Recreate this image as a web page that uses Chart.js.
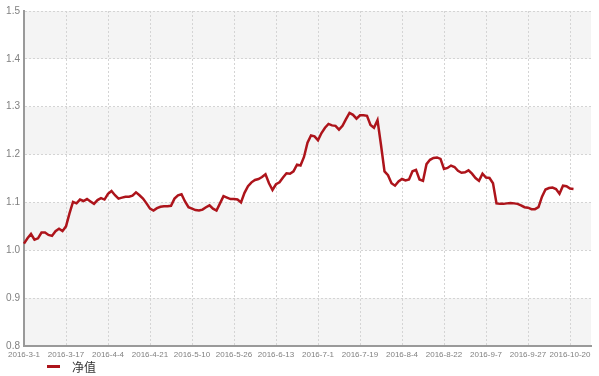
<!DOCTYPE html>
<html>
<head>
<meta charset="utf-8">
<script src="https://cdn.jsdelivr.net/npm/chart.js@4.4.0/dist/chart.umd.min.js"></script>
<style>
  html, body { margin: 0; padding: 0; background: #fff; }
  #wrap { position: relative; width: 599px; height: 376px; }
  #legend { position: absolute; left: 47px; top: 358px; font: 12px "Noto Sans CJK SC", sans-serif; color: #333; display: flex; align-items: center; }
  #legend i { display: inline-block; width: 13px; height: 3px; margin-right: 12px; }
</style>
</head>
<body>
<div id="wrap">
  <canvas id="mychart" width="599" height="376"></canvas>
  <div id="legend"></div>
</div>
<script>
// 日期 (x軸)
var dates = [
  '2016-3-1','2016-3-2','2016-3-3','2016-3-4','2016-3-7','2016-3-8','2016-3-9','2016-3-10','2016-3-11','2016-3-14','2016-3-15','2016-3-16','2016-3-17',
  '2016-3-18','2016-3-21','2016-3-22','2016-3-23','2016-3-24','2016-3-25','2016-3-28','2016-3-29','2016-3-30','2016-3-31','2016-4-1','2016-4-4',
  '2016-4-6','2016-4-7','2016-4-8','2016-4-11','2016-4-12','2016-4-13','2016-4-14','2016-4-15','2016-4-18','2016-4-19','2016-4-20','2016-4-21',
  '2016-4-22','2016-4-25','2016-4-26','2016-4-27','2016-4-28','2016-4-29','2016-5-3','2016-5-4','2016-5-5','2016-5-6','2016-5-9','2016-5-10',
  '2016-5-11','2016-5-12','2016-5-13','2016-5-16','2016-5-17','2016-5-18','2016-5-19','2016-5-20','2016-5-23','2016-5-24','2016-5-25','2016-5-26',
  '2016-5-27','2016-5-30','2016-5-31','2016-6-1','2016-6-2','2016-6-3','2016-6-6','2016-6-7','2016-6-8','2016-6-9','2016-6-10','2016-6-13',
  '2016-6-14','2016-6-15','2016-6-16','2016-6-20','2016-6-21','2016-6-22','2016-6-23','2016-6-27','2016-6-28','2016-6-29','2016-6-30','2016-7-1',
  '2016-7-4','2016-7-5','2016-7-6','2016-7-7','2016-7-8','2016-7-11','2016-7-12','2016-7-13','2016-7-14','2016-7-15','2016-7-18','2016-7-19',
  '2016-7-20','2016-7-21','2016-7-22','2016-7-25','2016-7-26','2016-7-27','2016-7-28','2016-7-29','2016-8-1','2016-8-2','2016-8-3','2016-8-4',
  '2016-8-5','2016-8-8','2016-8-9','2016-8-10','2016-8-11','2016-8-12','2016-8-15','2016-8-16','2016-8-17','2016-8-18','2016-8-19','2016-8-22',
  '2016-8-23','2016-8-24','2016-8-25','2016-8-26','2016-8-29','2016-8-30','2016-8-31','2016-9-1','2016-9-2','2016-9-5','2016-9-6','2016-9-7',
  '2016-9-8','2016-9-9','2016-9-12','2016-9-13','2016-9-14','2016-9-19','2016-9-20','2016-9-21','2016-9-22','2016-9-23','2016-9-26','2016-9-27',
  '2016-9-28','2016-9-29','2016-9-30','2016-10-10','2016-10-11','2016-10-12','2016-10-13','2016-10-14','2016-10-17','2016-10-18','2016-10-19','2016-10-20',
  '2016-10-21','2016-10-24','2016-10-25','2016-10-26','2016-10-27','2016-10-28'
]
// 淨值 (y軸)
var netValue = [
  1.014,1.025,1.034,1.022,1.025,1.037,1.037,1.032,1.030,1.040,
  1.045,1.040,1.050,1.077,1.101,1.098,1.106,1.103,1.107,1.102,
  1.097,1.105,1.109,1.106,1.118,1.124,1.115,1.108,1.110,1.112,
  1.112,1.114,1.121,1.115,1.108,1.098,1.087,1.083,1.088,1.091,
  1.092,1.092,1.093,1.108,1.115,1.117,1.102,1.090,1.087,1.084,
  1.083,1.085,1.090,1.094,1.087,1.083,1.098,1.113,1.110,1.107,
  1.107,1.106,1.100,1.120,1.134,1.142,1.147,1.149,1.153,1.159,
  1.140,1.126,1.138,1.142,1.152,1.161,1.160,1.165,1.179,1.177,
  1.195,1.225,1.240,1.238,1.230,1.245,1.256,1.264,1.261,1.260,
  1.252,1.260,1.274,1.287,1.283,1.275,1.282,1.282,1.281,1.262,
  1.256,1.272,1.220,1.165,1.157,1.140,1.135,1.144,1.149,1.146,
  1.148,1.165,1.168,1.148,1.145,1.180,1.189,1.193,1.194,1.191,
  1.170,1.172,1.177,1.174,1.166,1.162,1.163,1.167,1.160,1.151,
  1.145,1.160,1.152,1.151,1.140,1.098,1.097,1.097,1.098,1.099,
  1.098,1.097,1.094,1.090,1.089,1.086,1.086,1.090,1.112,1.127,
  1.130,1.131,1.128,1.118,1.135,1.134,1.129,1.128
]
var seriesName = '净值'
var yMin = 0.8
var yMax = 1.5
var yStep = 0.1
var labelEvery = 12

var lineColor = '#ad141b'
var bandColor = '#f4f4f4'
var gridColor = '#d4d4d4'

// 隔行底色
var bands = {
  id: 'bands',
  beforeDraw(chart) {
    var area = chart.chartArea
    var ys = chart.scales.y
    var ctx = chart.ctx
    ctx.save()
    ctx.fillStyle = bandColor
    ys.ticks.forEach(function (t, i) {
      if (i % 2 === 0 && i < ys.ticks.length - 1) {
        var y1 = ys.getPixelForValue(t.value)
        var y2 = ys.getPixelForValue(ys.ticks[i + 1].value)
        ctx.fillRect(area.left, y2, area.right - area.left, y1 - y2)
      }
    })
    ctx.restore()
  }
}

var ctx = document.getElementById('mychart').getContext('2d')
var linechart = new Chart(ctx, {
  type: 'line',
  data: {
    labels: dates,
    datasets: [{
      label: seriesName,
      data: netValue,
      borderColor: lineColor,
      backgroundColor: lineColor,
      borderWidth: 2.5,
      pointRadius: 0,
      tension: 0,
      fill: false
    }]
  },
  options: {
    responsive: false,
    animation: false,
    layout: { padding: { top: 11, right: 8, bottom: 16, left: 0 } },
    plugins: {
      legend: { display: false },
      tooltip: { enabled: false }
    },
    scales: {
      x: {
        grid: { color: gridColor, drawTicks: false },
        border: { display: true, color: '#999', width: 2, dash: [2, 2] },
        ticks: {
          autoSkip: false,
          maxRotation: 0,
          minRotation: 0,
          padding: 4,
          color: '#808080',
          font: { family: '"Liberation Sans", Arial, sans-serif', size: 8 },
          callback: function (v, i) { return i % labelEvery === 0 ? dates[i] : null }
        },
        afterFit: function (s) { s.height = 14 }
      },
      y: {
        min: yMin,
        max: yMax,
        grid: { color: gridColor, drawTicks: false },
        border: { display: true, color: '#999', width: 2, dash: [2, 2] },
        ticks: {
          stepSize: yStep,
          padding: 4,
          color: '#808080',
          font: { family: '"Liberation Sans", Arial, sans-serif', size: 10 },
          callback: function (v) { return v.toFixed(1) }
        },
        afterFit: function (s) { s.width = 24 }
      }
    }
  },
  plugins: [bands]
})

// 圖例
var ds = linechart.data.datasets[0]
document.getElementById('legend').innerHTML =
  '<i style="background:' + ds.borderColor + '"></i><span>' + ds.label + '</span>'
</script>
</body>
</html>
